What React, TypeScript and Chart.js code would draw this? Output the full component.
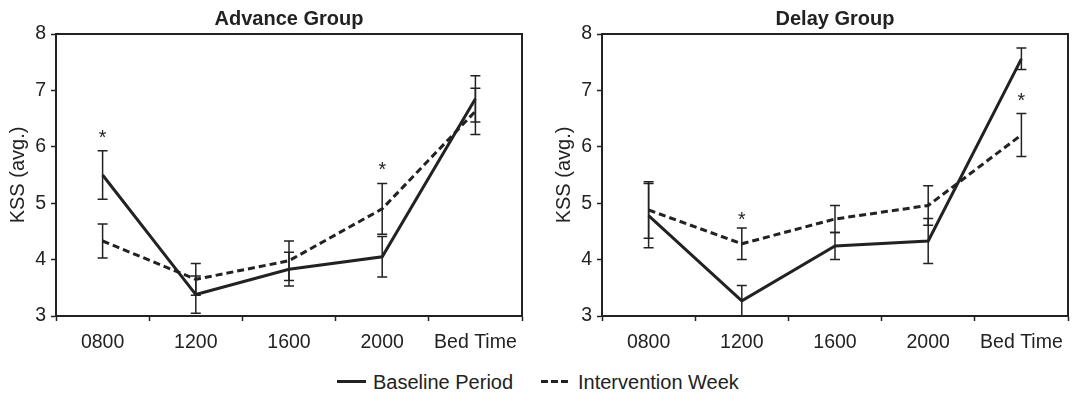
import React, { useEffect, useRef } from 'react';
import { Chart, registerables } from 'chart.js';

Chart.register(...registerables);

// ---------- data ----------
const categories = ['0800', '1200', '1600', '2000', 'Bed Time'];
const yTicks = [3, 4, 5, 6, 7, 8];

const advanceBaseline = [5.5, 3.38, 3.83, 4.05, 6.85];
const advanceBaselineErr = [0.43, 0.33, 0.3, 0.36, 0.41];
const advanceIntervention = [4.33, 3.65, 3.98, 4.9, 6.63];
const advanceInterventionErr = [0.3, 0.28, 0.35, 0.45, 0.41];
const advanceStars = [
  { x: '0800', y: 6.25 },
  { x: '2000', y: 5.68 },
];

const delayBaseline = [4.78, 3.27, 4.24, 4.33, 7.56];
const delayBaselineErr = [0.57, 0.27, 0.24, 0.4, 0.19];
const delayIntervention = [4.88, 4.28, 4.72, 4.96, 6.21];
const delayInterventionErr = [0.5, 0.28, 0.24, 0.35, 0.38];
const delayStars = [
  { x: '1200', y: 4.79 },
  { x: 'Bed Time', y: 6.9 },
];

const seriesLabels = ['Baseline Period', 'Intervention Week'];

// ---------- style ----------
const FONT = '"Liberation Sans", Arial, Helvetica, sans-serif';
const INK = '#222222';

const overlayPlugin = {
  id: 'overlay',
  afterDatasetsDraw(chart: any, _args: any, opts: any) {
    const { ctx, chartArea, scales } = chart;
    const x = scales.x;
    const y = scales.y;
    ctx.save();
    ctx.strokeStyle = INK;
    ctx.lineWidth = 1.5;
    chart.data.datasets.forEach((ds: any, i: number) => {
      const errs: number[] = opts.errors[i];
      ds.data.forEach((v: number, j: number) => {
        const px = x.getPixelForValue(j);
        const top = y.getPixelForValue(v + errs[j]);
        const bot = y.getPixelForValue(v - errs[j]);
        ctx.beginPath();
        ctx.moveTo(px, top);
        ctx.lineTo(px, bot);
        ctx.moveTo(px - 5, top);
        ctx.lineTo(px + 5, top);
        ctx.moveTo(px - 5, bot);
        ctx.lineTo(px + 5, bot);
        ctx.stroke();
      });
    });
    // significance stars
    ctx.fillStyle = INK;
    ctx.font = `19.5px ${FONT}`;
    ctx.textAlign = 'center';
    ctx.textBaseline = 'alphabetic';
    (opts.stars as { x: string; y: number }[]).forEach((s) => {
      const px = x.getPixelForValue(categories.indexOf(s.x));
      const py = y.getPixelForValue(s.y);
      ctx.fillText('*', px, py + 11);
    });
    // frame (top + right)
    ctx.lineWidth = 2;
    ctx.strokeStyle = INK;
    ctx.beginPath();
    ctx.moveTo(chartArea.left, chartArea.top);
    ctx.lineTo(chartArea.right, chartArea.top);
    ctx.lineTo(chartArea.right, chartArea.bottom);
    ctx.stroke();
    ctx.restore();
  },
};

type PanelProps = {
  title: string;
  baseline: number[];
  baselineErr: number[];
  intervention: number[];
  interventionErr: number[];
  stars: { x: string; y: number }[];
  width: number;
  left: number;
};

function Panel(props: PanelProps) {
  const ref = useRef<HTMLCanvasElement | null>(null);
  useEffect(() => {
    if (!ref.current) return;
    const padRight = props.width - 522;
    const chart = new Chart(ref.current, {
      type: 'line',
      data: {
        labels: categories,
        datasets: [
          {
            label: seriesLabels[0],
            data: props.baseline,
            borderColor: INK,
            borderWidth: 3,
            pointRadius: 0,
            fill: false,
            tension: 0,
          },
          {
            label: seriesLabels[1],
            data: props.intervention,
            borderColor: INK,
            borderWidth: 3,
            borderDash: [7, 4],
            pointRadius: 0,
            fill: false,
            tension: 0,
          },
        ],
      },
      options: {
        responsive: false,
        animation: false,
        layout: { padding: { left: 0, right: padRight, top: 0, bottom: 0 } },
        plugins: {
          legend: { display: false },
          tooltip: { enabled: false },
          title: {
            display: true,
            text: props.title,
            fullSize: false,
            color: INK,
            font: { family: FONT, size: 20, weight: 'bold', lineHeight: 1.2 },
            padding: { top: 7, bottom: 3 },
          },
          overlay: {
            errors: [props.baselineErr, props.interventionErr],
            stars: props.stars,
          },
        } as any,
        scales: {
          x: {
            type: 'category',
            offset: true,
            grid: {
              offset: true,
              drawOnChartArea: false,
              drawTicks: true,
              tickLength: 5,
              tickWidth: 1.5,
              color: INK,
            },
            border: { color: INK, width: 2 },
            ticks: {
              color: INK,
              font: { family: FONT, size: 19.5 },
              padding: 10,
              maxRotation: 0,
              autoSkip: false,
            },
            afterFit: (s: any) => {
              s.height = 44;
            },
          },
          y: {
            min: 3,
            max: 8,
            afterBuildTicks: (s: any) => {
              s.ticks = yTicks.map((v) => ({ value: v }));
            },
            ticks: {
              color: INK,
              font: { family: FONT, size: 19.5 },
              padding: 5,
            },
            grid: {
              drawOnChartArea: false,
              drawTicks: true,
              tickLength: 5,
              tickWidth: 1.5,
              color: INK,
            },
            border: { color: INK, width: 2 },
            title: {
              display: true,
              text: 'KSS (avg.)',
              color: INK,
              font: { family: FONT, size: 20 },
              padding: { top: 6, bottom: 0 },
            },
            afterFit: (s: any) => {
              s.width = 56;
            },
          },
        } as any,
      },
      plugins: [overlayPlugin as any],
    });
    return () => chart.destroy();
  }, []);
  return (
    <canvas
      ref={ref}
      width={props.width}
      height={360}
      style={{ position: 'absolute', left: props.left, top: 0, width: props.width, height: 360 }}
    />
  );
}

export default function App() {
  const textStyle: React.CSSProperties = {
    position: 'absolute',
    top: 370,
    fontFamily: FONT,
    fontSize: 20,
    lineHeight: '24px',
    color: INK,
    whiteSpace: 'nowrap',
  };
  return (
    <div
      style={{
        position: 'fixed',
        left: 0,
        top: 0,
        width: 1080,
        height: 401,
        background: '#ffffff',
        overflow: 'hidden',
      }}
    >
      <Panel
        title="Advance Group"
        baseline={advanceBaseline}
        baselineErr={advanceBaselineErr}
        intervention={advanceIntervention}
        interventionErr={advanceInterventionErr}
        stars={advanceStars}
        width={540}
        left={0}
      />
      <Panel
        title="Delay Group"
        baseline={delayBaseline}
        baselineErr={delayBaselineErr}
        intervention={delayIntervention}
        interventionErr={delayInterventionErr}
        stars={delayStars}
        width={534}
        left={546}
      />
      <div style={{ position: 'absolute', left: 337, top: 380, width: 29, height: 3, background: INK }} />
      <div style={{ ...textStyle, left: 373 }}>{seriesLabels[0]}</div>
      <div
        style={{
          position: 'absolute',
          left: 541,
          top: 380,
          width: 28,
          height: 3,
          background: `repeating-linear-gradient(to right, ${INK} 0px, ${INK} 7px, transparent 7px, transparent 10px)`,
        }}
      />
      <div style={{ ...textStyle, left: 578 }}>{seriesLabels[1]}</div>
    </div>
  );
}
